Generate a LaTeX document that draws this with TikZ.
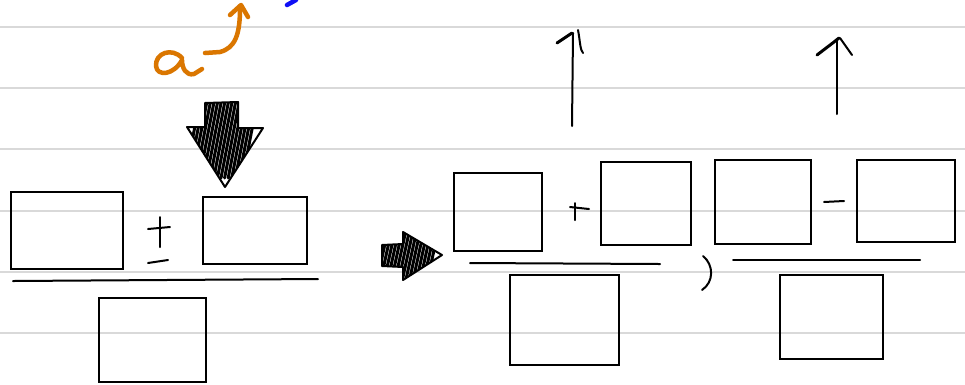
\documentclass[tikz,border=0pt]{standalone}
\usepackage{tikz}
\definecolor{inkorange}{RGB}{218,118,0}
\definecolor{inkblue}{RGB}{15,15,245}
\definecolor{ruleline}{RGB}{217,217,217}

\begin{document}
\begin{tikzpicture}[
    x=1pt, y=-1pt,
    rule/.style={ruleline, line width=2.2pt},
    box/.style={draw, line width=1.9pt, anchor=north west, inner sep=0pt, outer sep=0pt},
    pen/.style={line width=2pt, line cap=round, line join=round},
    marker/.style={line width=4.5pt, line cap=round, line join=round},
    hatchline/.style={line width=3pt, line cap=round}
  ]
    \useasboundingbox (0,0) rectangle (965,384);
    \fill[white] (0,0) rectangle (965,384);
    \foreach \y in {27,88,149,211,272,333}
      \draw[rule] (0,\y) -- (965,\y);
    % left fraction
    \node[box, minimum width=112pt, minimum height=77pt] (numA) at (11,192) {};
    \node[box, minimum width=104pt, minimum height=67pt] (numB) at (203,197) {};
    \node[box, minimum width=107pt, minimum height=84pt] (denC) at (99,298) {};
    \draw[pen] (13,281) -- (318,279);
    \draw[pen] (160,217) -- (160,247);
    \draw[pen] (148,229) -- (170,227);
    \draw[pen] (148,263) -- (168,260);
    % orange a with arrow
    \draw[marker, inkorange] (182,58) .. controls (172,47) and (155,53) .. (156,66)
      .. controls (157,77) and (174,75) .. (182,60)
      .. controls (182,68) and (186,76) .. (194,74) -- (202,69);
    \draw[marker, inkorange] (205,53) -- (220,52) .. controls (235,48) and (240,35) .. (240,8);
    \draw[marker, inkorange] (230,15) -- (241,5) -- (248,17);
    \draw[marker, inkblue] (287,5) -- (296,0);
    % down arrow
    \begin{scope}
      \clip (205,103) -- (238,102) -- (238,128) -- (263,128) -- (225,187) -- (187,127) -- (205,127) -- cycle;
      \foreach \i in {0,...,16}
        \draw[hatchline] (185+\i*3.6,178) -- (200+\i*3.6,100);
    \end{scope}
    \draw[pen] (205,103) -- (238,102) -- (238,128) -- (263,128) -- (225,187) -- (187,127) -- (205,127) -- cycle;
    % right arrow
    \begin{scope}
      \clip (382,245) -- (403,244) -- (403,232) -- (442,255) -- (403,280) -- (403,267) -- (382,266) -- cycle;
      \foreach \i in {0,...,14}
        \draw[hatchline] (376+\i*3.6,285) -- (388+\i*3.6,230);
    \end{scope}
    \draw[pen] (382,245) -- (403,244) -- (403,232) -- (442,255) -- (403,280) -- (403,267) -- (382,266) -- cycle;
    % right side
    \node[box, minimum width=88pt, minimum height=78pt] (numD) at (454,173) {};
    \node[box, minimum width=90pt, minimum height=83pt] (numE) at (601,162) {};
    \node[box, minimum width=109pt, minimum height=90pt] (denF) at (510,275) {};
    \draw[pen] (470,263) -- (660,264);
    \draw[pen] (575,203) -- (575,220);
    \draw[pen] (570,207) -- (589,209);
    \draw[pen] (572,126) -- (573,33);
    \draw[pen, line width=3pt] (557,43) -- (572,33);
    \draw[pen] (578,30) .. controls (580,40) and (580,50) .. (583,53);
    \draw[pen] (703,256) .. controls (714,265) and (714,282) .. (702,290);
    \node[box, minimum width=96pt, minimum height=84pt] (numG) at (715,160) {};
    \node[box, minimum width=98pt, minimum height=82pt] (numH) at (857,160) {};
    \node[box, minimum width=103pt, minimum height=84pt] (denI) at (780,275) {};
    \draw[pen] (733,260) -- (920,260);
    \draw[pen] (824,202) -- (844,201);
    \draw[pen] (837,114) -- (837,39);
    \draw[pen, line width=3pt] (817,55) -- (834,42) -- (839,38);
    \draw[pen] (840,38) -- (852,55);
\end{tikzpicture}
\end{document}
